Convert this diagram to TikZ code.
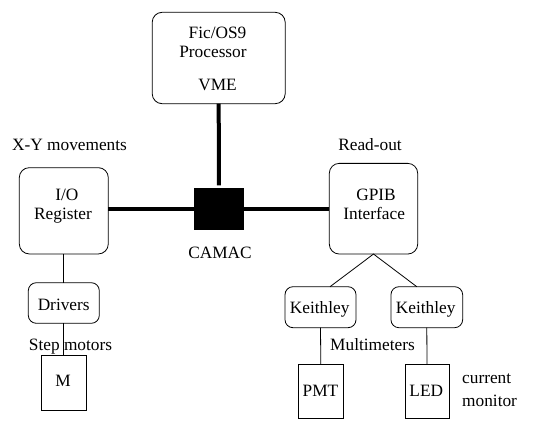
\documentclass[tikz,border=0pt]{standalone}
\usepackage{fontspec}
\setmainfont{Liberation Serif}
\newfontfamily\tnr{Liberation Serif}
\begin{document}
\begin{tikzpicture}[x=1pt,y=-1pt,
  box/.style={draw,line width=0.8pt,rounded corners=10pt,inner sep=0pt,outer sep=0pt},
  smallbox/.style={draw,line width=0.8pt,rounded corners=8pt,inner sep=0pt,outer sep=0pt},
  sqbox/.style={draw,line width=0.8pt,inner sep=0pt,outer sep=0pt},
  txt/.style={inner sep=0pt,anchor=base,font=\tnr\fontsize{17.3}{19}\selectfont},
  bus/.style={line width=4pt},
  wire/.style={line width=0.8pt}]
\useasboundingbox (0,0) rectangle (540,420);

% boxes
\node[box,minimum width=133pt,minimum height=91.4pt] (vme) at (218.7,58) {};
\node[box,minimum width=89pt,minimum height=86.3pt] (io) at (63.8,210.8) {};
\node[box,minimum width=88.4pt,minimum height=90.7pt] (gpib) at (373.5,208.7) {};
\node[sqbox,fill=black,minimum width=48.3pt,minimum height=41pt] (camac) at (218.9,208.8) {};
\node[smallbox,minimum width=71pt,minimum height=40.6pt] (drv) at (63.8,303) {};
\node[sqbox,minimum width=44.3pt,minimum height=55.7pt] (m) at (63.8,382.8) {};
\node[smallbox,minimum width=71pt,minimum height=41pt] (k1) at (320.5,307.2) {};
\node[smallbox,minimum width=71.7pt,minimum height=41pt] (k2) at (426.8,307.2) {};
\node[sqbox,minimum width=45pt,minimum height=54.5pt] (pmt) at (320.8,391.3) {};
\node[sqbox,minimum width=44pt,minimum height=54.5pt] (led) at (427,391.3) {};

% texts
\node[txt] (t1) at (217.5,39) {Fic/OS9};
\node[txt] (t2) at (213,58) {Processor};
\node[txt] (t3) at (217.5,90.3) {VME};
\node[txt] (t4) at (69.5,150.7) {X-Y movements};
\node[txt] (t5) at (370,150.7) {Read-out};
\node[txt] (t6) at (66.8,200) {I/O};
\node[txt] (t7) at (63,219) {Register};
\node[txt] (t8) at (376,200) {GPIB};
\node[txt] (t9) at (374.2,219) {Interface};
\node[txt] (t10) at (220,258.3) {CAMAC};
\node[txt] (t11) at (63.7,310) {Drivers};
\node[txt] (t13) at (63,386.7) {M};
\node[txt] (t14) at (319.7,313.3) {Keithley};
\node[txt] (t15) at (425.7,313.3) {Keithley};
\node[txt] (t17) at (320.5,396.7) {PMT};
\node[txt] (t18) at (426.3,396.7) {LED};
\node[txt,anchor=base west] (t19) at (462,383.3) {current};
\node[txt,anchor=base west] (t20) at (462,406.7) {monitor};

% connectors
\draw[bus,shorten >=3pt] (vme.south) -- (camac.north);
\draw[bus] (camac.west) -- (camac.west -| io.east);
\draw[bus] (camac.east) -- (camac.east -| gpib.west);
\draw[wire] (io.south) -- (drv.north);
\draw[wire] (drv.south) -- (m.north);
\draw[wire] ([xshift=9.5pt]k1.north) -- (gpib.south) -- ([xshift=-10pt]k2.north);
\draw[wire] (k1.south) -- (pmt.north);
\draw[wire] (k2.south) -- (led.north);

% labels drawn over the wires
\node[txt] (t12) at (70.5,350.7) {Step motors};
\node[txt] (t16) at (372.5,350.7) {Multimeters};
\end{tikzpicture}
\end{document}
